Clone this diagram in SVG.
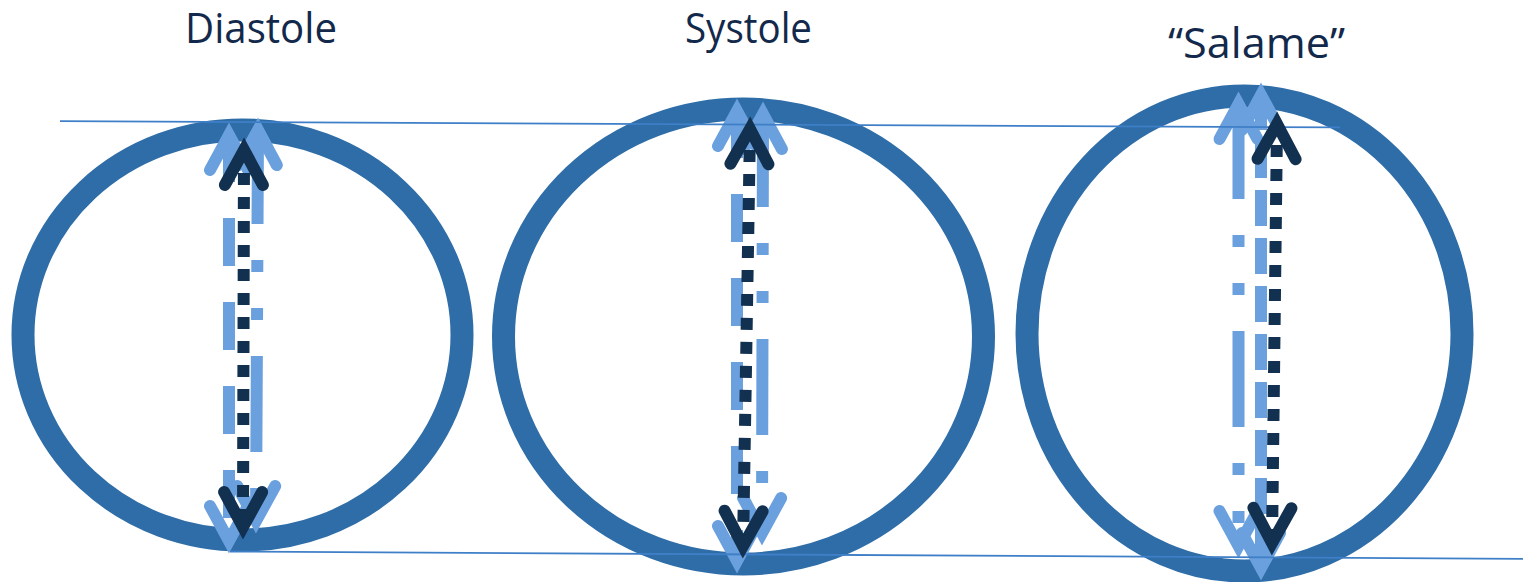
<svg xmlns="http://www.w3.org/2000/svg" width="1523" height="582" viewBox="0 0 1523 582">
<style>
.ring{fill:none;stroke:#2E6DA7;stroke-width:23}
.lt{fill:none;stroke:#6AA0DD;stroke-width:12;marker-start:url(#hl);marker-end:url(#hl)}
.dk{fill:none;stroke:#12304F;stroke-width:12;stroke-dasharray:12 12;marker-start:url(#hd);marker-end:url(#hd)}
.dash{stroke-dasharray:48 36}
.lddd{stroke-dasharray:96 36 12 36 12 36}
.sdash{stroke-dasharray:36 12}
.guide{stroke:#3F7FC8;stroke-width:1.8;fill:none}
.lbl{font-family:"Open Sans","Liberation Sans",sans-serif;font-size:42px;fill:#13294B;text-anchor:middle}
</style>
<defs>
<marker id="hl" markerUnits="userSpaceOnUse" markerWidth="80" markerHeight="80" refX="0" refY="0" orient="auto-start-reverse" style="overflow:visible">
<path d="M-35,-19 L0,0 L-35,19" fill="none" stroke="#6AA0DD" stroke-width="12" stroke-linecap="round" stroke-linejoin="miter"/>
</marker>
<marker id="hd" markerUnits="userSpaceOnUse" markerWidth="80" markerHeight="80" refX="0" refY="0" orient="auto-start-reverse" style="overflow:visible">
<path d="M-35,-19 L0,0 L-35,19" fill="none" stroke="#12304F" stroke-width="12" stroke-linecap="round" stroke-linejoin="miter"/>
</marker>
</defs>
<g id="diastole">
<ellipse class="ring" cx="242.5" cy="335" rx="219.5" ry="205"/>
<text class="lbl" x="261" y="43" textLength="152" lengthAdjust="spacingAndGlyphs">Diastole</text>
</g>
<g id="systole">
<ellipse class="ring" cx="743.5" cy="336.5" rx="240" ry="227.5"/>
<text class="lbl" x="748.5" y="43" textLength="127" lengthAdjust="spacingAndGlyphs">Systole</text>
</g>
<g id="salame">
<ellipse class="ring" cx="1244.5" cy="333.5" rx="217.5" ry="237.5"/>
<text class="lbl" x="1256.5" y="58" textLength="177" lengthAdjust="spacingAndGlyphs">“Salame”</text>
</g>
<g id="connectors">
<line class="lt dash" x1="229" y1="135" x2="229" y2="541" stroke-dashoffset="1"/>
<line class="lt lddd" x1="258" y1="130" x2="256" y2="521" stroke-dashoffset="2"/>
<line class="lt dash" x1="737" y1="111" x2="737" y2="561" stroke-dashoffset="1"/>
<line class="lt lddd" x1="763" y1="114" x2="762" y2="533" stroke-dashoffset="3"/>
<line class="lt lddd" x1="1238.5" y1="104" x2="1238.5" y2="546" stroke-dashoffset="1"/>
<line class="lt sdash" x1="1261" y1="95" x2="1261" y2="568" stroke-dashoffset="1"/>
<line class="guide" x1="60" y1="121.1" x2="1340" y2="127.4"/>
<line class="guide" x1="230" y1="551.5" x2="1523" y2="558.8"/>
<line class="dk" x1="244" y1="150" x2="243" y2="527" stroke-dashoffset="1"/>
<line class="dk" x1="750" y1="129" x2="743" y2="546" stroke-dashoffset="3"/>
<line class="dk" x1="1277" y1="124" x2="1272" y2="543" stroke-dashoffset="3"/>
</g>
</svg>
